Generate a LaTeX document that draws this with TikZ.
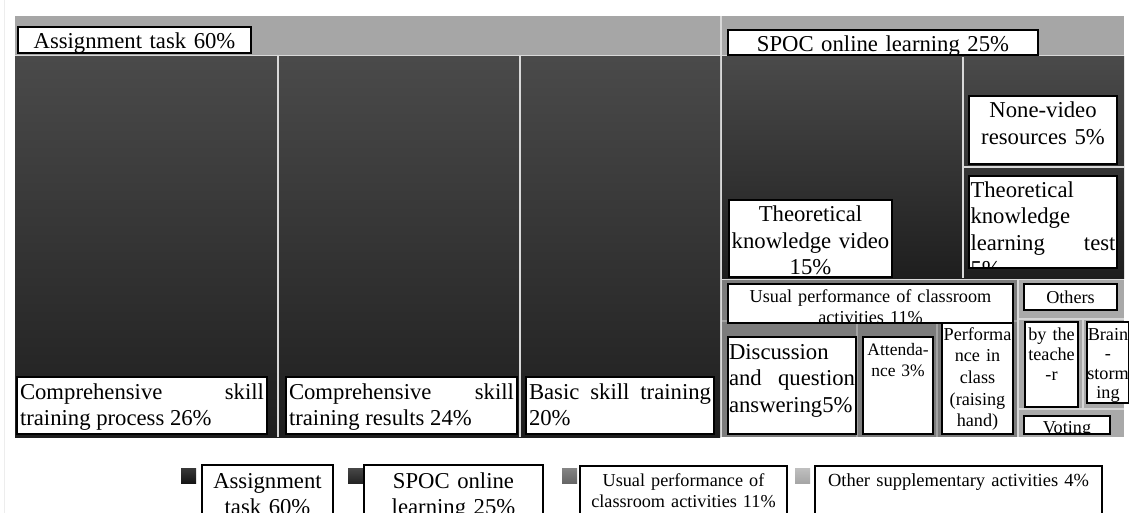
\documentclass[tikz,border=0pt]{standalone}
\usepackage{fontspec}
\setmainfont{Liberation Serif}
\usetikzlibrary{fit}
\definecolor{hdr}{HTML}{A6A6A6}
\definecolor{dtop}{HTML}{4A4A4A}
\definecolor{dmid}{HTML}{242424}
\definecolor{dbot}{HTML}{1E1E1E}
\definecolor{usual}{HTML}{7C7C7C}
\definecolor{usualsep}{HTML}{A2A2A2}
\definecolor{oth}{HTML}{A9A9A9}
\definecolor{othsep}{HTML}{D6D6D6}
\definecolor{sep}{HTML}{D9D9D9}
\hyphenpenalty=10000
\exhyphenpenalty=10000
\tolerance=10000
\tikzset{
  lblfill/.style={fill=white, inner sep=0pt},
  lblframe/.style={draw=black, line width=1.6pt},
  lbltext/.style={inner sep=0pt, anchor=base},
  fbig/.style={font=\fontsize{22.7}{26.5}\selectfont},
  fsmall/.style={font=\fontsize{18.2}{21.7}\selectfont},
  fnarrow/.style={font=\fontsize{18.2}{20.2}\selectfont},
  darkfill/.style={top color=dtop, middle color=dmid, bottom color=dbot},
  sepline/.style={draw=sep, line width=2pt},
  usep/.style={draw=usualsep, line width=2pt},
  osep/.style={draw=othsep, line width=2pt},
  legsq/.style={inner sep=0pt},
}
% #1 name, #2 x1, #3 y1, #4 x2, #5 y2, #6 pad, #7 first baseline, #8 keys, #9 text
\newcommand\lbl[9]{%
  \node[lblfill, fit={(#2,#3) (#4,#5)}] (#1) {};
  \begin{scope}
    \clip (#2,#3) rectangle (#4,#5);
    \pgfmathsetmacro\lblw{#4-#2-2*#6}
    \node[lbltext, text width=\lblw pt, #8] (#1-t) at ({(#2+#4)/2},#7) {#9};
  \end{scope}
  \draw[lblframe] (#1.south west) rectangle (#1.north east);
}
\begin{document}
\begin{tikzpicture}[x=1pt, y=-1pt]
\useasboundingbox (0,0) rectangle (1129,513);
\clip (0,0) rectangle (1129,513);
\fill[white] (0,0) rectangle (1129,513);
\draw[black!7, line width=1pt] (4,0) -- (4,513);
% base
\fill[sep] (15,16) rectangle (1124,437);
% headers
\fill[hdr] (15,16) rectangle (720,55);
\fill[hdr] (722,16) rectangle (1124,55);
% assignment block
\shade[darkfill] (15,57) rectangle (720,437);
\draw[sepline] (278,56) -- (278,437);
\draw[sepline] (520,56) -- (520,437);
% SPOC block
\shade[darkfill] (722,57) rectangle (1124,278);
\draw[sepline] (963,57) -- (963,278);
\draw[sepline] (963,167) -- (1124,167);
% usual performance block
\fill[usual] (722,280) rectangle (1017,437);
\draw[usep] (722,321) -- (1017,321);
\draw[usep] (857,321) -- (857,437);
\draw[usep] (936.5,321) -- (936.5,437);
% others block
\fill[oth] (1019,280) rectangle (1124,437);
\draw[osep] (1019,319) -- (1124,319);
\draw[osep] (1083,319) -- (1083,408);
\draw[osep] (1019,409) -- (1124,409);

% labels
\lbl{asg}{18}{27}{251}{53}{3}{49}{fbig, align=center}{Assignment task 60\%}
\lbl{spoc}{728}{30}{1038}{55}{3}{52}{fbig, align=center}{SPOC online learning 25\%}
\lbl{c1}{17}{377}{267}{434}{3}{399}{fbig, align=justify}{Comprehensive skill training process 26\%}
\lbl{c2}{286}{377}{517}{434}{3}{399}{fbig, align=justify}{Comprehensive skill training results 24\%}
\lbl{c3}{526}{377}{714}{434}{3}{399}{fbig, align=justify}{Basic skill training 20\%}
\lbl{tkv}{729}{200}{892}{277}{-6}{222}{fbig, align=center}{Theoretical\\knowledge video\\15\%}
\lbl{nv}{969}{96}{1117}{164}{3}{118}{fbig, align=center}{None-video resources 5\%}
\lbl{tklt}{969}{176}{1117}{268}{1.5}{197}{fbig, align=justify}{Theoretical knowledge learning test\linebreak 5\%}
\lbl{up}{728}{284}{1013}{323}{3}{302}{fsmall, align=center}{Usual performance of classroom\\activities 11\%}
\lbl{disc}{728}{337}{856}{434}{1}{359}{fbig, align=justify}{Discussion and question answering5\%}
\lbl{att}{863}{337}{933}{434}{1}{355}{font=\fontsize{17.5}{21}\selectfont, align=center}{Attenda-\\nce 3\%}
\lbl{perf}{942}{323}{1013}{434}{0}{340}{fsmall, align=center}{Performa\\nce in\\class\\(raising\\hand)}
\lbl{oths}{1024}{284}{1117}{310}{2}{303}{fsmall, align=center}{Others}
\lbl{byt}{1025}{322}{1078}{407}{0}{340}{fnarrow, align=center}{by the\\teache\\-r}
\lbl{brain}{1087}{322}{1129}{403}{0}{340}{font=\fontsize{18.2}{19.5}\selectfont, align=center}{Brain\\-\\storm\\ing}
\lbl{vot}{1024}{416}{1110}{434}{2}{433}{fsmall, align=center}{Voting}

% legend
\node[legsq, fit={(181,468) (196,483)}, top color=black!78, bottom color=black!92] (sq1) {};
\node[legsq, fit={(348,468) (363,483)}, top color=black!72, bottom color=black!86] (sq2) {};
\node[legsq, fit={(562,468) (577,483)}, top color=black!48, bottom color=black!60] (sq3) {};
\node[legsq, fit={(795,468) (810,483)}, top color=black!25, bottom color=black!35] (sq4) {};
\lbl{lg1}{202}{465}{333}{530}{3}{488}{fbig, align=center}{Assignment\\task 60\%}
\lbl{lg2}{364}{465}{543}{530}{3}{488}{fbig, align=center}{SPOC online\\learning 25\%}
\lbl{lg3}{580}{466}{787}{530}{3}{486}{fsmall, align=center}{Usual performance of\\classroom activities 11\%}
\lbl{lg4}{815}{466}{1102}{530}{3}{486}{font=\fontsize{18.5}{22}\selectfont, align=center}{Other supplementary activities 4\%}
\end{tikzpicture}
\end{document}
